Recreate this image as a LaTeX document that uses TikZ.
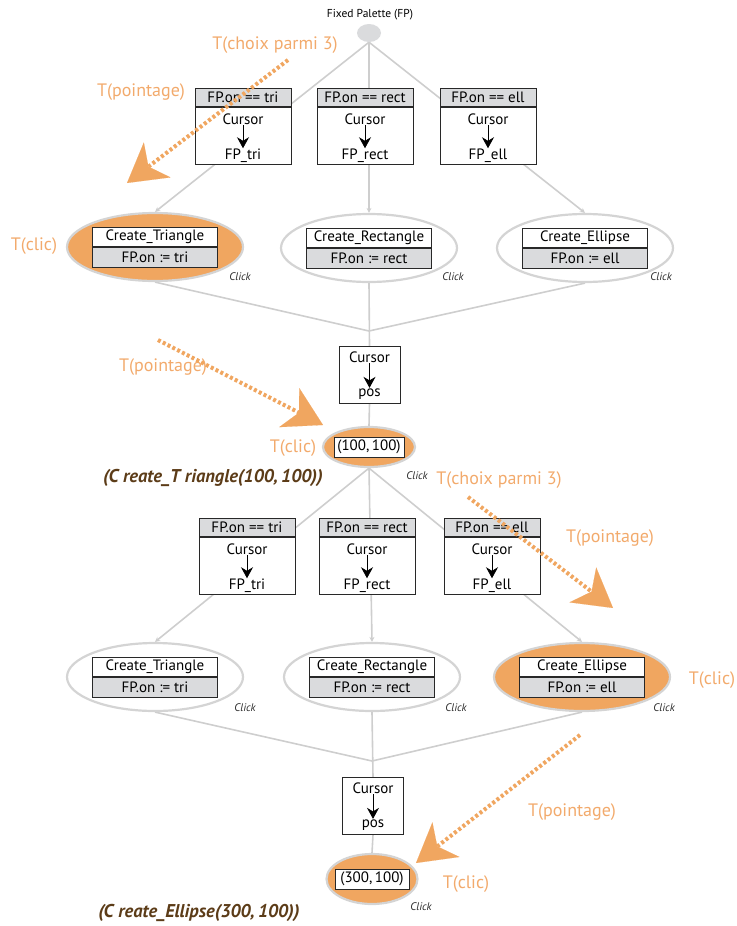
\documentclass[tikz,border=0pt]{standalone}
\usepackage{fontspec}
\setmainfont{PT Sans}
\usetikzlibrary{shapes.geometric,arrows.meta,backgrounds}
\definecolor{org}{RGB}{240,166,96}
\definecolor{orgtxt}{RGB}{242,170,108}
\definecolor{lgrey}{RGB}{206,206,206}
\definecolor{egrey}{RGB}{212,212,212}
\definecolor{hgrey}{RGB}{218,219,221}
\definecolor{brn}{RGB}{92,60,24}
\definecolor{bord}{RGB}{40,40,40}
\newcommand\mkcond[5]{%
  \node[hdr, anchor=north] (#1h) at (#2,#3) {#4};
  \node[bodybox, anchor=north] (#1) at (#1h.south) {};
  \node[txt] (#1c) at ([yshift=-12pt]#1.north) {Cursor};
  \node[txt] (#1t) at ([yshift=9pt]#1.south) {#5};
  \draw[blk] (#1c) -- (#1t);
}
\newcommand\mkact[6]{%
  \node[actell, #4] (#1) at (#2,#3) {};
  \node[actop, anchor=south] (#1a) at (#1.center) {#5};
  \node[acbot, anchor=north] (#1b) at (#1.center) {#6};
}
\begin{document}
\begin{tikzpicture}[x=1pt,y=-1pt,
  hdr/.style={draw=bord,line width=0.9pt,fill=hgrey,minimum width=96pt,minimum height=18pt,inner sep=0pt,font=\fontsize{15}{17}\selectfont},
  bodybox/.style={draw=bord,line width=0.9pt,fill=white,minimum width=96pt,minimum height=57pt,inner sep=0pt},
  txt/.style={inner sep=0.5pt,font=\fontsize{15}{17}\selectfont},
  blk/.style={-{Stealth[length=11pt,width=12pt]},line width=0.8pt,black},
  gl/.style={draw=lgrey,line width=1.6pt},
  gla/.style={gl,-{Stealth[length=5pt,width=5pt]}},
  actell/.style={ellipse,draw=egrey,line width=2.2pt,minimum width=176pt,minimum height=68pt,inner sep=0pt},
  actop/.style={draw=bord,line width=0.9pt,fill=white,minimum width=125pt,minimum height=19.5pt,inner sep=0pt,font=\fontsize{15}{17}\selectfont},
  acbot/.style={actop,fill=hgrey},
  pell/.style={ellipse,draw=egrey,line width=2.2pt,fill=org,inner sep=0pt},
  pbox/.style={draw=bord,line width=0.9pt,fill=white,inner sep=0pt,minimum height=20pt,font=\fontsize{15}{17}\selectfont},
  clk/.style={inner sep=0pt,font=\fontsize{11}{13}\selectfont\itshape,text=bord},
  lbl/.style={inner sep=0pt,text=orgtxt,font=\fontsize{18}{20}\selectfont},
  brnlbl/.style={inner sep=0pt,text=brn,font=\fontsize{18.5}{21}\selectfont\bfseries\itshape},
  dotarr/.style={draw=org,line width=4pt,dash pattern=on 3pt off 2.4pt,-{Stealth[length=38pt,width=44pt,inset=11pt,line width=0.1pt,fill=org]}}
]
\useasboundingbox (0,0) rectangle (736,926);

% top
\node[font=\fontsize{11.5}{13}\selectfont,inner sep=0pt] (title) at (370,15) {Fixed Palette (FP)};
\node[ellipse,fill=hgrey,minimum width=24pt,minimum height=18pt,inner sep=0pt] (fp) at (369,33) {};

\mkcond{c1}{243}{88}{FP.on == tri}{FP\_tri}
\mkcond{c2}{365}{88}{FP.on == rect}{FP\_rect}
\mkcond{c3}{488}{88}{FP.on == ell}{FP\_ell}

\mkact{e1}{155}{247}{fill=org}{Create\_Triangle}{FP.on := tri}
\mkact{e2}{369}{248}{fill=white}{Create\_Rectangle}{FP.on := rect}
\mkact{e3}{585}{248}{fill=white}{Create\_Ellipse}{FP.on := ell}
\node[clk] (k1) at (240,277) {Click};
\node[clk] (k2) at (453,277) {Click};
\node[clk] (k3) at (661,277) {Click};

\coordinate (j1) at (369,331);
\node[bodybox,minimum width=61pt,anchor=north] (u1) at (369.5,346) {};
\node[txt] (u1c) at ([yshift=-11pt]u1.north) {Cursor};
\node[txt] (u1t) at ([yshift=10pt]u1.south) {pos};
\draw[blk] (u1c) -- (u1t);

\node[pell,minimum width=92pt,minimum height=40pt] (p1) at (369,447) {};
\node[pbox,minimum width=70pt] (p1b) at (p1.center) {(100,\,100)};
\node[clk] (k4) at (417,476) {Click};

% second half
\mkcond{c4}{247}{518}{FP.on == tri}{FP\_tri}
\mkcond{c5}{367}{518}{FP.on == rect}{FP\_rect}
\mkcond{c6}{492}{518}{FP.on == ell}{FP\_ell}

\mkact{e4}{155}{677}{fill=white}{Create\_Triangle}{FP.on := tri}
\mkact{e5}{372}{677}{fill=white}{Create\_Rectangle}{FP.on := rect}
\mkact{e6}{582}{677}{fill=org}{Create\_Ellipse}{FP.on := ell}
\node[clk] (k5) at (245,708) {Click};
\node[clk] (k6) at (456,708) {Click};
\node[clk] (k7) at (664,708) {Click};

\coordinate (j2) at (372,761);
\node[bodybox,minimum width=61pt,anchor=north] (u2) at (373,777) {};
\node[txt] (u2c) at ([yshift=-11pt]u2.north) {Cursor};
\node[txt] (u2t) at ([yshift=10pt]u2.south) {pos};
\draw[blk] (u2c) -- (u2t);

\node[pell,minimum width=91pt,minimum height=50pt] (p2) at (372,879) {};
\node[pbox,minimum width=74pt] (p2b) at (p2.center) {(300,\,100)};
\node[clk] (k8) at (421,907) {Click};

% grey connectors
\begin{pgfonlayer}{background}
\draw[gla] (fp.south) -- (e1.north);
\draw[gla] (fp.south) -- (e2.north);
\draw[gla] (fp.south) -- (e3.north);
\draw[gl] (e1.south) -- (j1);
\draw[gl] (e3.south) -- (j1);
\draw[gl] (e2.south) -- (u1.north);
\draw[gl] (u1.south) -- (p1.north);
\draw[gla] (p1.south) -- (e4.north);
\draw[gla] (p1.south) -- (e5.north);
\draw[gla] (p1.south) -- (e6.north);
\draw[gl] (e4.south) -- (j2);
\draw[gl] (e6.south) -- (j2);
\draw[gl] (e5.south) -- (u2.north);
\draw[gl] (u2.south) -- (p2.north);
\end{pgfonlayer}

% orange annotations
\node[lbl] (l1) at (275,45) {T(choix parmi 3)};
\node[lbl] (l2) at (141,92) {T(pointage)};
\node[lbl] (l3) at (34,246) {T(clic)};
\node[lbl] (l4) at (163,367) {T(pointage)};
\node[lbl] (l5) at (293,448) {T(clic)};
\node[lbl] (l6) at (499,480) {T(choix parmi 3)};
\node[lbl] (l7) at (610,538) {T(pointage)};
\node[lbl] (l8) at (712,680) {T(clic)};
\node[lbl] (l9) at (572,812) {T(pointage)};
\node[lbl] (l10) at (466,884) {T(clic)};

\node[brnlbl] (n1) at (213,478) {(C reate\_T riangle(100,\,100))};
\node[brnlbl] (n2) at (199,913) {(C reate\_Ellipse(300,\,100))};

\coordinate (a1s) at (288,60);  \coordinate (a1t) at (127,183);
\coordinate (a2s) at (158,340); \coordinate (a2t) at (323,425);
\coordinate (a3s) at (468,497); \coordinate (a3t) at (613,608);
\coordinate (a4s) at (580,735); \coordinate (a4t) at (416,863);
\draw[dotarr] (a1s) -- (a1t);
\draw[dotarr] (a2s) -- (a2t);
\draw[dotarr] (a3s) -- (a3t);
\draw[dotarr] (a4s) -- (a4t);
\end{tikzpicture}
\end{document}
